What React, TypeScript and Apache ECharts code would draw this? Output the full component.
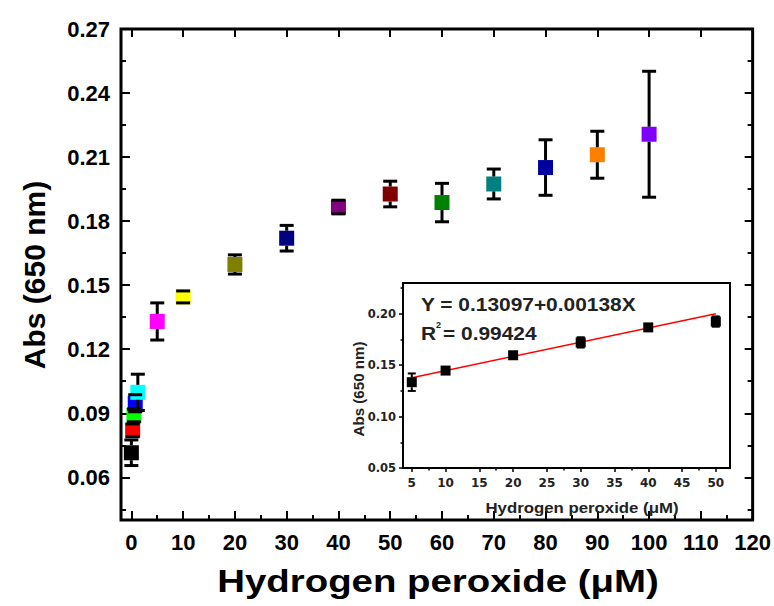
import React, { useEffect, useRef } from 'react';
import * as echarts from 'echarts';

// ---- Main plot data ----
const concentrations = [0, 0.25, 0.5, 0.75, 1.25, 5, 10, 20, 30, 40, 50, 60, 70, 80, 90, 100];
const absorbance = [0.0715, 0.082, 0.089, 0.0947, 0.0998, 0.133, 0.1445, 0.1597, 0.172, 0.1866, 0.1927, 0.1887, 0.1974, 0.2051, 0.2111, 0.2207];
const absError = [0.006, 0.003, 0.003, 0.004, 0.0085, 0.0087, 0.0028, 0.0045, 0.006, 0.0032, 0.006, 0.009, 0.007, 0.013, 0.011, 0.0295];
const pointColors = ['#000000', '#ff0000', '#00ff00', '#0000ff', '#00ffff', '#ff00ff', '#ffff00', '#808000', '#000080', '#800080', '#800000', '#008000', '#008080', '#0000a0', '#ff8000', '#8000ff'];

// ---- Inset data ----
const insetX = [5, 10, 20, 30, 40, 50];
const insetY = [0.1335, 0.1448, 0.1597, 0.1722, 0.1868, 0.1925];
const insetErr = [0.0085, 0.0015, 0.0025, 0.005, 0.0015, 0.005];
const fitX = [5, 50];
const fitY = [0.13787, 0.2];

// ---- Tick values ----
const xTicks = [0, 10, 20, 30, 40, 50, 60, 70, 80, 90, 100, 110, 120];
const xMinorTicks = [5, 15, 25, 35, 45, 55, 65, 75, 85, 95, 105, 115];
const yTicks = [0.06, 0.09, 0.12, 0.15, 0.18, 0.21, 0.24, 0.27];
const yMinorTicks = [0.045, 0.075, 0.105, 0.135, 0.165, 0.195, 0.225, 0.255];
const insetXTicks = [5, 10, 15, 20, 25, 30, 35, 40, 45, 50];
const insetXMinor = [7.5, 17.5, 27.5, 37.5, 47.5];
const insetYTicks = [0.05, 0.1, 0.15, 0.2];
const insetYMinor = [0.075, 0.125, 0.175, 0.225];

const FONT = 'Liberation Sans, Arial, Helvetica, sans-serif';
const WIDE = 'DejaVu Sans, Verdana, sans-serif';

function errorBarRenderer(half: number, capW: number, lw: number) {
  return (params: any, api: any) => {
    const x = api.value(0);
    const y = api.value(1);
    const e = api.value(2);
    const c = api.coord([x, y]);
    const top = api.coord([x, y + e]);
    const bot = api.coord([x, y - e]);
    const style = { stroke: '#000', lineWidth: lw, fill: null };
    const children: any[] = [];
    if (top[1] < c[1] - half) {
      children.push({ type: 'line', shape: { x1: c[0], y1: c[1] - half, x2: c[0], y2: top[1] }, style });
    }
    if (bot[1] > c[1] + half) {
      children.push({ type: 'line', shape: { x1: c[0], y1: c[1] + half, x2: c[0], y2: bot[1] }, style });
    }
    children.push({ type: 'line', shape: { x1: c[0] - capW / 2, y1: top[1], x2: c[0] + capW / 2, y2: top[1] }, style });
    children.push({ type: 'line', shape: { x1: c[0] - capW / 2, y1: bot[1], x2: c[0] + capW / 2, y2: bot[1] }, style });
    return { type: 'group', children };
  };
}

function tickAxis(extra: any) {
  return {
    type: 'value',
    splitLine: { show: false },
    axisLine: { show: false, onZero: false },
    ...extra,
  };
}

export default function App() {
  const ref = useRef<HTMLDivElement>(null);
  useEffect(() => {
    if (!ref.current) return;
    const chart = echarts.init(ref.current, undefined, { renderer: 'svg' });
    const mainTickStyle = { color: '#000', width: 2 };
    const option: any = {
      animation: false,
      backgroundColor: '#fff',
      grid: [
        { left: 121, top: 29, width: 635, height: 491, show: true, borderColor: '#000', borderWidth: 3, backgroundColor: 'transparent' },
        { left: 403, top: 283, width: 327, height: 185, show: true, borderColor: '#000', borderWidth: 2, backgroundColor: '#fff' },
      ],
      xAxis: [
        tickAxis({
          gridIndex: 0, position: 'bottom', min: -2, max: 120,
          axisTick: { show: true, inside: true, length: 9, lineStyle: mainTickStyle, customValues: xTicks },
          axisLabel: { show: true, customValues: xTicks, fontSize: 22, fontWeight: 'bold', fontFamily: FONT, color: '#000', margin: 11 },
        }),
        tickAxis({
          gridIndex: 0, position: 'bottom', min: -2, max: 120,
          axisTick: { show: true, inside: true, length: 5, lineStyle: mainTickStyle, customValues: xMinorTicks },
          axisLabel: { show: false },
        }),
        tickAxis({
          gridIndex: 0, position: 'top', min: -2, max: 120,
          axisTick: { show: true, inside: true, length: 8, lineStyle: mainTickStyle, customValues: xTicks },
          axisLabel: { show: false },
        }),
        tickAxis({
          gridIndex: 1, position: 'bottom', min: 3.7, max: 52.1,
          axisTick: { show: true, inside: false, length: 4, lineStyle: { color: '#000', width: 1.5 }, customValues: insetXTicks },
          axisLabel: { show: true, customValues: insetXTicks, fontSize: 12, fontWeight: 'bold', fontFamily: WIDE, color: '#222', margin: 9 },
        }),
        tickAxis({
          gridIndex: 1, position: 'bottom', min: 3.7, max: 52.1,
          axisTick: { show: true, inside: false, length: 2.5, lineStyle: { color: '#000', width: 1.5 }, customValues: insetXMinor },
          axisLabel: { show: false },
        }),
      ],
      yAxis: [
        tickAxis({
          gridIndex: 0, position: 'left', min: 0.04, max: 0.27,
          axisTick: { show: true, inside: true, length: 9, lineStyle: mainTickStyle, customValues: yTicks },
          axisLabel: { show: true, customValues: yTicks, formatter: (v: number) => v.toFixed(2), fontSize: 22, fontWeight: 'bold', fontFamily: FONT, color: '#000', margin: 11 },
        }),
        tickAxis({
          gridIndex: 0, position: 'left', min: 0.04, max: 0.27,
          axisTick: { show: true, inside: true, length: 5, lineStyle: mainTickStyle, customValues: yMinorTicks },
          axisLabel: { show: false },
        }),
        tickAxis({
          gridIndex: 0, position: 'right', min: 0.04, max: 0.27,
          axisTick: { show: true, inside: true, length: 8, lineStyle: mainTickStyle, customValues: yTicks },
          axisLabel: { show: false },
        }),
        tickAxis({
          gridIndex: 1, position: 'left', min: 0.05, max: 0.23,
          axisTick: { show: true, inside: false, length: 4, lineStyle: { color: '#000', width: 1.5 }, customValues: insetYTicks },
          axisLabel: { show: true, customValues: insetYTicks, formatter: (v: number) => v.toFixed(2), fontSize: 11.5, fontWeight: 'bold', fontFamily: WIDE, color: '#222', margin: 7 },
        }),
        tickAxis({
          gridIndex: 1, position: 'left', min: 0.05, max: 0.23,
          axisTick: { show: true, inside: false, length: 2.5, lineStyle: { color: '#000', width: 1.5 }, customValues: insetYMinor },
          axisLabel: { show: false },
        }),
        tickAxis({
          gridIndex: 0, position: 'right', min: 0.04, max: 0.27,
          axisTick: { show: true, inside: true, length: 5, lineStyle: mainTickStyle, customValues: yMinorTicks },
          axisLabel: { show: false },
        }),
      ],
      series: [
        {
          type: 'scatter', xAxisIndex: 0, yAxisIndex: 0, z: 3,
          symbol: 'rect', symbolSize: 15,
          data: concentrations.map((x, i) => [x, absorbance[i]]),
          itemStyle: { color: (p: any) => pointColors[p.dataIndex], opacity: 1 },
        },
        {
          type: 'custom', xAxisIndex: 0, yAxisIndex: 0, z: 4,
          encode: { x: 0, y: 1 },
          data: concentrations.map((x, i) => [x, absorbance[i], absError[i]]),
          renderItem: errorBarRenderer(7.5, 14, 3),
        },
        {
          type: 'line', xAxisIndex: 3, yAxisIndex: 3, z: 2,
          showSymbol: false, symbol: 'none',
          data: fitX.map((x, i) => [x, fitY[i]]),
          lineStyle: { color: '#ff0000', width: 1.5 },
        },
        {
          type: 'scatter', xAxisIndex: 3, yAxisIndex: 3, z: 3,
          symbol: 'rect', symbolSize: 10,
          data: insetX.map((x, i) => [x, insetY[i]]),
          itemStyle: { color: '#000', opacity: 1 },
        },
        {
          type: 'custom', xAxisIndex: 3, yAxisIndex: 3, z: 4,
          encode: { x: 0, y: 1 },
          data: insetX.map((x, i) => [x, insetY[i], insetErr[i]]),
          renderItem: errorBarRenderer(5, 8, 2),
        },
      ],
      graphic: [
        {
          type: 'text', x: 438, y: 581, scaleX: 1.2, z: 10,
          style: { text: 'Hydrogen peroxide (μM)', fontSize: 32, fontWeight: 'bold', fontFamily: FONT, fill: '#000', align: 'center', verticalAlign: 'middle', textAlign: 'center', textVerticalAlign: 'middle' },
        },
        {
          type: 'text', x: 34, y: 275, rotation: Math.PI / 2, z: 10,
          style: { text: 'Abs (650 nm)', fontSize: 30, fontWeight: 'bold', fontFamily: FONT, fill: '#000', align: 'center', verticalAlign: 'middle', textAlign: 'center', textVerticalAlign: 'middle' },
        },
        {
          type: 'text', x: 421, y: 304, scaleX: 1.1, z: 10,
          style: { text: 'Y = 0.13097+0.00138X', fontSize: 19, fontWeight: 'bold', fontFamily: FONT, fill: '#222', align: 'left', verticalAlign: 'middle', textAlign: 'left', textVerticalAlign: 'middle' },
        },
        {
          type: 'text', x: 421, y: 333, scaleX: 1.1, z: 10,
          style: { text: 'R', fontSize: 19, fontWeight: 'bold', fontFamily: FONT, fill: '#222', align: 'left', verticalAlign: 'middle', textAlign: 'left', textVerticalAlign: 'middle' },
        },
        {
          type: 'text', x: 436, y: 325, z: 10,
          style: { text: '2', fontSize: 9, fontWeight: 'bold', fontFamily: FONT, fill: '#222', align: 'left', verticalAlign: 'middle', textAlign: 'left', textVerticalAlign: 'middle' },
        },
        {
          type: 'text', x: 443, y: 333, scaleX: 1.1, z: 10,
          style: { text: '= 0.99424', fontSize: 19, fontWeight: 'bold', fontFamily: FONT, fill: '#222', align: 'left', verticalAlign: 'middle', textAlign: 'left', textVerticalAlign: 'middle' },
        },
        {
          type: 'text', x: 582, y: 508, scaleX: 1.2, z: 10,
          style: { text: 'Hydrogen peroxide (μM)', fontSize: 14, fontWeight: 'bold', fontFamily: FONT, fill: '#222', align: 'center', verticalAlign: 'middle', textAlign: 'center', textVerticalAlign: 'middle' },
        },
        {
          type: 'text', x: 359, y: 389, rotation: Math.PI / 2, scaleX: 1.08, z: 10,
          style: { text: 'Abs (650 nm)', fontSize: 14, fontWeight: 'bold', fontFamily: FONT, fill: '#222', align: 'center', verticalAlign: 'middle', textAlign: 'center', textVerticalAlign: 'middle' },
        },
      ],
    };
    chart.setOption(option);
    return () => chart.dispose();
  }, []);
  return <div ref={ref} style={{ position: 'fixed', left: 0, top: 0, width: 774, height: 606 }} />;
}
